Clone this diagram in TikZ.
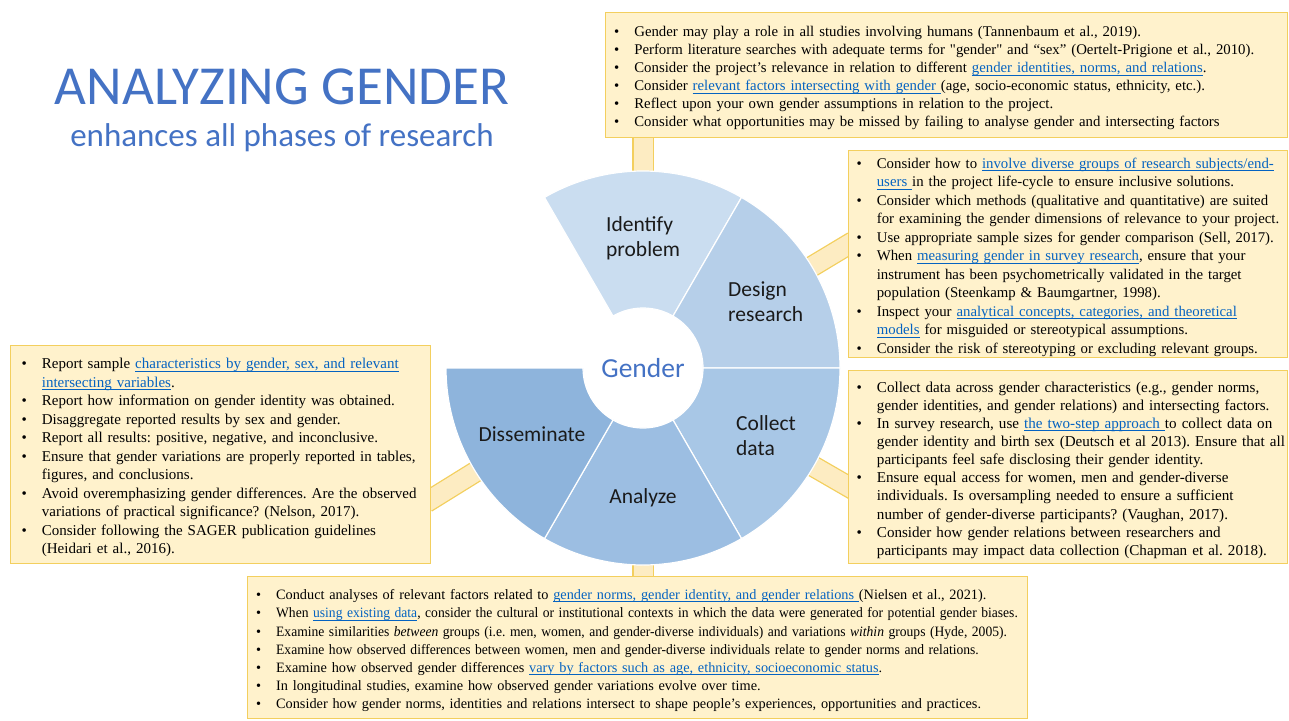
\documentclass[tikz,border=0pt]{standalone}
\usepackage{fontspec}
\usepackage{graphicx}
\setmainfont{Liberation Serif}
\newfontfamily\calibfont{Carlito}
\usetikzlibrary{backgrounds}
\frenchspacing

\definecolor{titleblue}{HTML}{4472C4}
\definecolor{linkblue}{HTML}{0563C1}
\definecolor{boxfill}{HTML}{FFF2CC}
\definecolor{boxline}{HTML}{F3CF5E}
\definecolor{bandfill}{HTML}{FDECC2}
\definecolor{identcol}{HTML}{CADDF0}
\definecolor{designcol}{HTML}{B6CFE9}
\definecolor{collectcol}{HTML}{A8C7E6}
\definecolor{analyzecol}{HTML}{9CBEE2}
\definecolor{dissemcol}{HTML}{8EB4DC}
\definecolor{stagetext}{HTML}{1A1A1A}

\newcommand{\lnk}[1]{\textcolor{linkblue}{\setbox0\hbox{#1}\rlap{\rule[-2.6pt]{\wd0}{0.8pt}}\box0}}
\newcommand{\bl}{\textbullet}
\newcommand{\squeeze}[1]{\scalebox{0.95}[1]{#1}}
\newenvironment{bullets}{\begin{tabular}{@{}l@{\hspace{15pt}}l@{}}}{\\[-6pt]\end{tabular}}

\begin{document}
\begin{tikzpicture}[x=1pt, y=-1pt,
  infobox/.style={draw=boxline, fill=boxfill, line width=1.3pt, anchor=north west,
    inner ysep=0pt, align=left, font=\fontsize{15}{18.5}\selectfont},
  band/.style={draw=boxline, line width=1.3pt, double=bandfill, double distance=19pt},
  stage/.style={font=\calibfont\fontsize{21.5}{25}\selectfont, text=stagetext, align=left, inner sep=0pt},
  sector/.style={draw=white, line width=1.2pt}]
\useasboundingbox (0,0) rectangle (1289,720);

% title
\node[font=\calibfont\fontsize{55}{60}\selectfont, text=titleblue] (ttl) at (282,87) {ANALYZING GENDER};
\node[font=\calibfont\fontsize{33}{38}\selectfont, text=titleblue] (subttl) at (282,138) {enhances all phases of research};

% boxes
\node[infobox, inner xsep=8.5pt, text width=665pt, minimum height=125pt,
      font=\fontsize{14.8}{18}\selectfont] (identbox) at (605,12) {%
\begin{bullets}
\bl & Gender may play a role in all studies involving humans (Tannenbaum et al., 2019).\\
\bl & Perform literature searches with adequate terms for \textquotedbl gender\textquotedbl{} and “sex” (Oertelt-Prigione et al., 2010).\\
\bl & Consider the project’s relevance in relation to different \lnk{gender identities, norms, and relations}.\\
\bl & Consider \lnk{relevant factors intersecting with gender }(age, socio-economic status, ethnicity, etc.).\\
\bl & Reflect upon your own gender assumptions in relation to the project.\\
\bl & Consider what opportunities may be missed by failing to analyse gender and intersecting factors
\end{bullets}};

\node[infobox, inner xsep=8pt, text width=423pt, minimum height=207pt,
      font=\fontsize{14.8}{18.5}\selectfont] (designbox) at (848,150) {%
\begin{bullets}
\bl & Consider how to \lnk{involve diverse groups of research subjects/end-}\\
    & \lnk{users }in the project life-cycle to ensure inclusive solutions.\\
\bl & Consider which methods (qualitative and quantitative) are suited\\
    & for examining the gender dimensions of relevance to your project.\\
\bl & Use appropriate sample sizes for gender comparison (Sell, 2017).\\
\bl & When \lnk{measuring gender in survey research}, ensure that your\\
    & instrument has been psychometrically validated in the target\\
    & population (Steenkamp \& Baumgartner, 1998).\\
\bl & Inspect your \lnk{analytical concepts, categories, and theoretical}\\
    & \lnk{models} for misguided or stereotypical assumptions.\\
\bl & Consider the risk of stereotyping or excluding relevant groups.
\end{bullets}};

\node[infobox, inner xsep=8pt, text width=423pt, minimum height=193pt,
      font=\fontsize{15.1}{18.1}\selectfont] (collectbox) at (848,370) {%
\begin{bullets}
\bl & Collect data across gender characteristics (e.g., gender norms,\\
    & gender identities, and gender relations) and intersecting factors.\\
\bl & In survey research, use \lnk{the two-step approach }to collect data on\\
    & gender identity and birth sex (Deutsch et al 2013). Ensure that all\\
    & participants feel safe disclosing their gender identity.\\
\bl & Ensure equal access for women, men and gender-diverse\\
    & individuals. Is oversampling needed to ensure a sufficient\\
    & number of gender-diverse participants? (Vaughan, 2017).\\
\bl & Consider how gender relations between researchers and\\
    & participants may impact data collection (Chapman et al. 2018).
\end{bullets}};

\node[infobox, inner xsep=11pt, text width=398pt, minimum height=218pt] (dissembox) at (10,345) {%
\begin{bullets}
\bl & Report sample \lnk{characteristics by gender, sex, and relevant}\\
    & \lnk{intersecting variables}.\\
\bl & Report how information on gender identity was obtained.\\
\bl & Disaggregate reported results by sex and gender.\\
\bl & Report all results: positive, negative, and inconclusive.\\
\bl & Ensure that gender variations are properly reported in tables,\\
    & figures, and conclusions.\\
\bl & Avoid overemphasizing gender differences. Are the observed\\
    & variations of practical significance? (Nelson, 2017).\\
\bl & Consider following the SAGER publication guidelines\\
    & (Heidari et al., 2016).
\end{bullets}};

\node[infobox, inner xsep=8.5pt, text width=763pt, minimum height=142pt,
      font=\fontsize{14.3}{18.2}\selectfont] (analyzebox) at (247,576) {%
\begin{bullets}
\bl & Conduct analyses of relevant factors related to \lnk{gender norms, gender identity, and gender relations }(Nielsen et al., 2021).\\
\bl & \squeeze{When \lnk{using existing data}, consider the cultural or institutional contexts in which the data were generated for potential gender biases.}\\
\bl & \squeeze{Examine similarities \emph{between} groups (i.e. men, women, and gender-diverse individuals) and variations \emph{within} groups (Hyde, 2005).}\\
\bl & \squeeze{Examine how observed differences between women, men and gender-diverse individuals relate to gender norms and relations.}\\
\bl & Examine how observed gender differences \lnk{vary by factors such as age, ethnicity, socioeconomic status}.\\
\bl & In longitudinal studies, examine how observed gender variations evolve over time.\\
\bl & Consider how gender norms, identities and relations intersect to shape people’s experiences, opportunities and practices.
\end{bullets}};

% wheel
\node[font=\calibfont\fontsize{27.5}{30}\selectfont, text=titleblue] (ctr) at (643,368) {Gender};

\begin{scope}[shift={(643,368)}, yscale=-1]
\coordinate (designjoin) at (31:245);
\coordinate (collectjoin) at (-30:245);
\coordinate (dissemjoin) at (211.8:255);
\end{scope}

\begin{pgfonlayer}{background}
\draw[band] (ctr.center) -- (ctr.center |- identbox.south);
\draw[band] (ctr.center) -- (designjoin);
\draw[band] (ctr.center) -- (collectjoin);
\draw[band] (ctr.center) -- (ctr.center |- analyzebox.north);
\draw[band] (ctr.center) -- (dissemjoin);

\begin{scope}[shift={(643,368)}, yscale=-1]
\fill[white] (0,0) circle[radius=60];
\filldraw[sector, fill=identcol] (60:197) arc[start angle=60, end angle=120, radius=197] -- (120:60) arc[start angle=120, end angle=60, radius=60] -- cycle;
\filldraw[sector, fill=designcol] (0:197) arc[start angle=0, end angle=60, radius=197] -- (60:60) arc[start angle=60, end angle=0, radius=60] -- cycle;
\filldraw[sector, fill=collectcol] (-60:197) arc[start angle=-60, end angle=0, radius=197] -- (0:60) arc[start angle=0, end angle=-60, radius=60] -- cycle;
\filldraw[sector, fill=analyzecol] (-120:197) arc[start angle=-120, end angle=-60, radius=197] -- (-60:60) arc[start angle=-60, end angle=-120, radius=60] -- cycle;
\filldraw[sector, fill=dissemcol] (180:197) arc[start angle=180, end angle=240, radius=197] -- (240:60) arc[start angle=240, end angle=180, radius=60] -- cycle;
\fill[white] (0,0) circle[radius=59];
\end{scope}
\end{pgfonlayer}

% stage labels
\node[stage, anchor=west] (identlbl) at (606,238) {Identify\\problem};
\node[stage, anchor=west] (designlbl) at (728,302) {Design\\research};
\node[stage, anchor=west] (collectlbl) at (736,436) {Collect\\data};
\node[stage] (analyzelbl) at (643,498) {Analyze};
\node[stage] (dissemlbl) at (532,434) {Disseminate};
\end{tikzpicture}
\end{document}
